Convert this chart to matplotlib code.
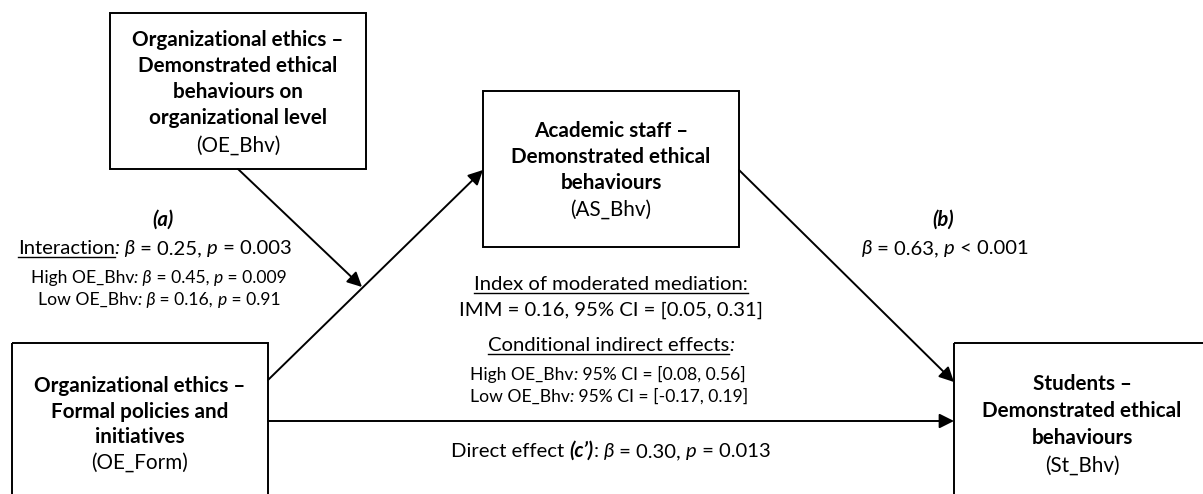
import matplotlib
matplotlib.use('Agg')
import matplotlib.pyplot as plt
from matplotlib.patches import Rectangle

plt.rcParams['font.family'] = ['Lato', 'DejaVu Sans']

W, H = 1203, 494
BIG, SMALL, BOX = 14.6, 12.6, 14.9

# box labels (bold lines, then the variable code)
mod_lines = ['Organizational ethics –', 'Demonstrated ethical', 'behaviours on', 'organizational level']
mod_code = '(OE_Bhv)'
med_lines = ['Academic staff –', 'Demonstrated ethical', 'behaviours']
med_code = '(AS_Bhv)'
x_lines = ['Organizational ethics –', 'Formal policies and', 'initiatives']
x_code = '(OE_Form)'
y_lines = ['Students –', 'Demonstrated ethical', 'behaviours']
y_code = '(St_Bhv)'

# path (a): interaction and simple slopes
a_beta, a_p = '0.25', '0.003'
high_beta, high_p = '0.45', '0.009'
low_beta, low_p = '0.16', '0.91'
# path (b)
b_beta, b_p = '0.63', '0.001'
# moderated mediation
imm, imm_ci = '0.16', ['0.05', '0.31']
high_ci = ['0.08', '0.56']
low_ci = ['-0.17', '0.19']
# direct effect (c')
c_beta, c_p = '0.30', '0.013'

fig = plt.figure(figsize=(W / 100, H / 100), dpi=100)
ax = fig.add_axes([0, 0, 1, 1])
ax.set_xlim(0, W)
ax.set_ylim(H, 0)
ax.axis('off')
renderer = fig.canvas.get_renderer()


def seg_width(s, size, weight, style):
    # measure with guard chars so leading/trailing spaces count
    t1 = ax.text(0, 0, 'x' + s + 'x', fontsize=size, fontweight=weight, fontstyle=style)
    t2 = ax.text(0, 0, 'xx', fontsize=size, fontweight=weight, fontstyle=style)
    w = t1.get_window_extent(renderer).width - t2.get_window_extent(renderer).width
    t1.remove()
    t2.remove()
    return w


def rich(x, y, segs, size, ha='center'):
    # segs: list of (text, flags) with flags from 'b', 'i', 'u'
    parts = []
    for s, fl in segs:
        weight = 'bold' if 'b' in fl else 'normal'
        style = 'italic' if 'i' in fl else 'normal'
        parts.append((s, fl, weight, style, seg_width(s, size, weight, style)))
    total = sum(p[4] for p in parts)
    x0 = x - total / 2 if ha == 'center' else x
    for s, fl, weight, style, w in parts:
        ax.text(x0, y, s, fontsize=size, fontweight=weight, fontstyle=style,
                ha='left', va='baseline', color='black')
        if 'u' in fl:
            ax.plot([x0, x0 + w], [y + 3, y + 3], color='black', lw=1.0)
        x0 += w


def box(x0, y0, x1, y1, lines, code, cx, ys, size=BOX):
    ax.add_patch(Rectangle((x0, y0), x1 - x0, y1 - y0, fill=False,
                           edgecolor='black', lw=1.4, clip_on=False))
    for ln, yy in zip(lines, ys):
        ax.text(cx, yy, ln, fontsize=size, fontweight='bold', ha='center', va='baseline')
    ax.text(cx, ys[len(lines)], code, fontsize=size, ha='center', va='baseline')


def arrow(p0, p1):
    ax.annotate('', xy=p1, xytext=p0,
                arrowprops=dict(arrowstyle='-|>', mutation_scale=22, lw=1.4,
                                color='black', shrinkA=0, shrinkB=0))


# boxes
box(110, 13, 366, 169, mod_lines, mod_code, 238, [46, 72, 98, 124, 152])
box(483, 91, 739, 247, med_lines, med_code, 611, [137, 163, 189, 216])
box(12, 343, 268, 500, x_lines, x_code, 140, [392, 418, 443, 469])
box(954, 343, 1210, 500, y_lines, y_code, 1082, [390, 417, 444, 472])

# paths
arrow((268, 380), (483, 170))
arrow((739, 170), (954, 382))
arrow((268, 421), (954, 421))
arrow((238, 169), (362, 287))

# path (a) labels
rich(163, 226, [('(a)', 'bi')], BIG)
rich(155, 254, [('Interaction', 'u'), (': β', 'i'), (' = ' + a_beta + ', ', ''),
                ('p', 'i'), (' = ' + a_p, '')], BIG)
rich(159, 283, [('High OE_Bhv', ''), (': β', 'i'), (' = ' + high_beta + ', ', ''),
                ('p', 'i'), (' = ' + high_p, '')], SMALL)
rich(159, 305, [('Low OE_Bhv', ''), (': β', 'i'), (' = ' + low_beta + ', ', ''),
                ('p', 'i'), (' = ' + low_p, '')], SMALL)

# path (b) labels
rich(943, 226, [('(b)', 'bi')], BIG)
rich(945, 254, [('β', 'i'), (' = ' + b_beta + ', ', ''), ('p', 'i'), (' < ' + b_p, '')], BIG)

# moderated mediation block
rich(611, 290, [('Index of moderated mediation:', 'u')], BIG)
rich(611, 316, [('IMM = ' + imm + ', 95% CI = [' + imm_ci[0] + ', ' + imm_ci[1] + ']', '')], BIG)
rich(611, 351, [('Conditional indirect effects', 'u'), (':', 'i')], BIG)
rich(470, 380, [('High OE_Bhv', ''), (':', 'i'),
                (' 95% CI = [' + high_ci[0] + ', ' + high_ci[1] + ']', '')], SMALL, ha='left')
rich(470, 402, [('Low OE_Bhv', ''), (':', 'i'),
                (' 95% CI = [' + low_ci[0] + ', ' + low_ci[1] + ']', '')], SMALL, ha='left')

# direct effect
rich(611, 457, [('Direct effect ', ''), ("(c’)", 'bi'), (': ', ''), ('β', 'i'),
                (' = ' + c_beta + ', ', ''), ('p', 'i'), (' = ' + c_p, '')], BIG)

fig.savefig('out.png', dpi=100, facecolor='white')
